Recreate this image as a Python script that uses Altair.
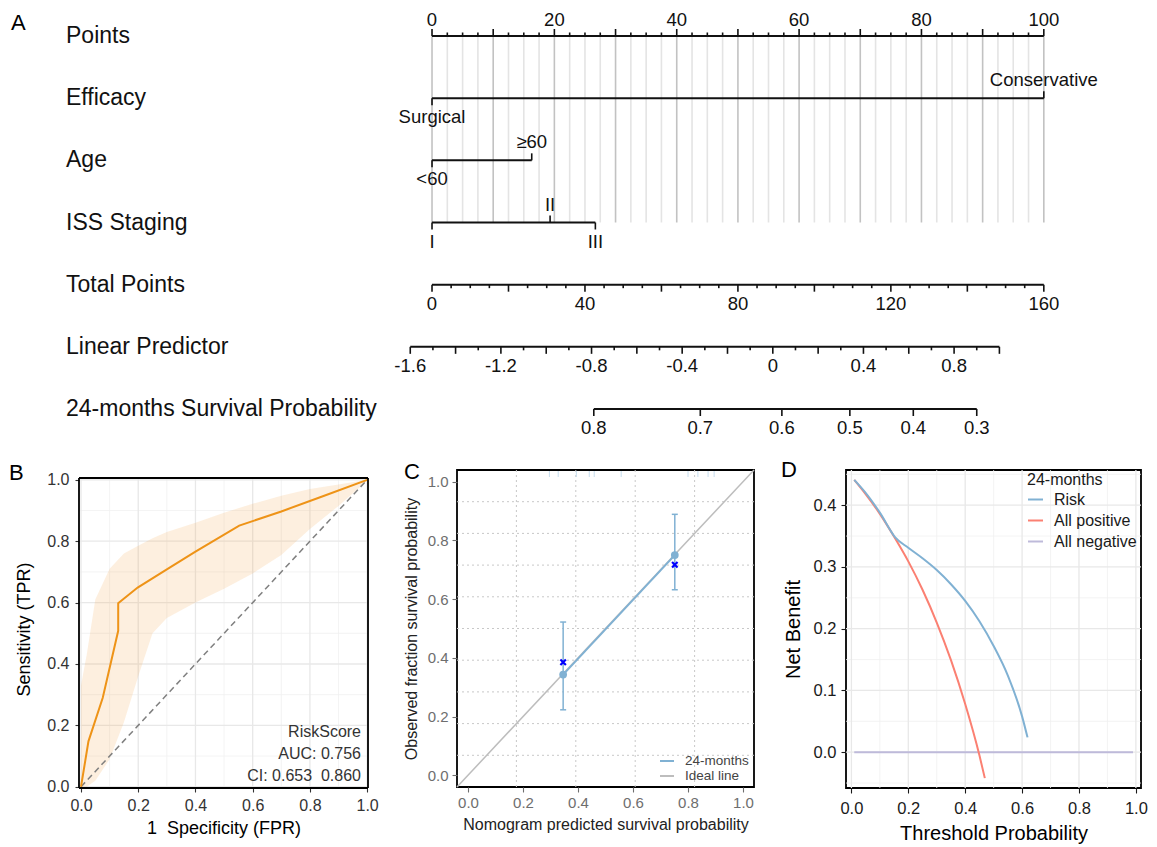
import altair as alt
import pandas as pd

FONT = "Liberation Sans"

# ================= Panel A : nomogram =================
row_names = ["Points", "Efficacy", "Age", "ISS Staging", "Total Points",
             "Linear Predictor", "24-months Survival Probability"]

points_labels = [0, 20, 40, 60, 80, 100]
efficacy_levels = ["Surgical", "Conservative"]
efficacy_points = [0, 100]
efficacy_side = ["below", "above"]
age_levels = ["<60", "≥60"]
age_points = [0, 16.3]
age_side = ["below", "above"]
iss_levels = ["I", "II", "III"]
iss_points = [0, 19.3, 26.7]
iss_side = ["below", "above", "below"]
total_labels = [0, 40, 80, 120, 160]
lp_labels = [-1.6, -1.2, -0.8, -0.4, 0, 0.4, 0.8]
lp_limits = [-1.6, 1.0]
surv_labels = [0.8, 0.7, 0.6, 0.5, 0.4, 0.3]
surv_lp = [-0.79, -0.32, 0.04, 0.34, 0.62, 0.90]

# how the lower scales line up with the Points scale
total_per_point = 1.6
lp_at_total_zero = -1.504
lp_per_total = 0.016875

# tick spacing of the nomogram rulers
points_tick_step, points_major_step = 2.5, 10
total_tick_step, total_major_step = 5, 20
lp_tick_step, lp_major_step = 0.1, 0.2

# ================= Panel B : ROC =================
roc_fpr = [0.0, 0.026, 0.076, 0.13, 0.13, 0.198, 0.30, 0.40, 0.553, 0.70, 0.85, 1.0]
roc_tpr = [0.0, 0.148, 0.29, 0.508, 0.598, 0.649, 0.708, 0.766, 0.851, 0.897, 0.948, 1.0]
ci_fpr = [0.0, 0.02, 0.05, 0.1, 0.15, 0.2, 0.25, 0.3, 0.4, 0.5, 0.6, 0.7, 0.8, 0.9, 1.0]
ci_lower = [0.0, 0.0, 0.02, 0.09, 0.21, 0.36, 0.50, 0.55, 0.60, 0.645, 0.695, 0.755, 0.84, 0.915, 0.997]
ci_upper = [0.33, 0.43, 0.61, 0.71, 0.76, 0.785, 0.81, 0.83, 0.86, 0.893, 0.922, 0.948, 0.97, 0.985, 1.0]
roc_ticks = [0.0, 0.2, 0.4, 0.6, 0.8, 1.0]
roc_minor = [0.1, 0.3, 0.5, 0.7, 0.9]
roc_text = ["RiskScore", "AUC: 0.756", "CI: 0.653\u00a0 0.860"]
roc_panel_x = [-0.007, 1.003]    # extent of the framed panel
roc_panel_y = [-0.004, 1.006]

# ================= Panel C : calibration =================
cal_pred = [0.346, 0.752]
cal_obs = [0.343, 0.750]
cal_lo = [0.223, 0.632]
cal_hi = [0.522, 0.889]
cal_km = [0.385, 0.717]
cal_rug = [0.296, 0.328, 0.394, 0.441, 0.459, 0.557, 0.80, 0.836, 0.873, 0.895]
cal_ideal = [-0.04, 1.04]
cal_grid_x = [0.176, 0.392, 0.608, 0.824]
cal_grid_y = [0.068, 0.176, 0.284, 0.392, 0.5, 0.608, 0.716, 0.824, 0.932]
cal_ticks = [0.0, 0.2, 0.4, 0.6, 0.8, 1.0]
cal_series = ["24-months", "Ideal line"]

# ================= Panel D : decision curve =================
risk_t = [0.01, 0.05, 0.1, 0.154, 0.2, 0.25, 0.3, 0.35, 0.4, 0.45, 0.5, 0.55, 0.6, 0.619]
risk_nb = [0.441, 0.42, 0.388, 0.348, 0.331, 0.314, 0.295, 0.272, 0.245, 0.212, 0.172, 0.124, 0.058, 0.024]
allpos_t = [0.01, 0.05, 0.1, 0.154, 0.2, 0.25, 0.3, 0.35, 0.4, 0.45, 0.469]
allpos_nb = [0.441, 0.418, 0.386, 0.346, 0.309, 0.263, 0.21, 0.149, 0.078, -0.005, -0.042]
allneg_t = [0.01, 0.99]
allneg_nb = [0.0, 0.0]
dca_series = ["Risk", "All positive", "All negative"]
dca_colors = ["#80B1D3", "#FB8072", "#BEBADA"]
dca_xticks = [0.0, 0.2, 0.4, 0.6, 0.8, 1.0]
dca_xminor = [0.1, 0.3, 0.5, 0.7, 0.9]
dca_yticks = [0.0, 0.1, 0.2, 0.3, 0.4]
dca_yminor = [-0.05, 0.05, 0.15, 0.25, 0.35, 0.45]

BLUE = "#80B1D3"
ORANGE = "#EE9317"


# ----------------------------------------------------------------------------------
def is_mult(v, step):
    q = v / step
    return abs(q - round(q)) < 1e-6


def u_tot(t):
    return t / total_per_point


def u_lp(v):
    return (v - lp_at_total_zero) / lp_per_total / total_per_point


n_pts_ticks = int(round(points_labels[-1] / points_tick_step))
points_ticks = [i * points_tick_step for i in range(n_pts_ticks + 1)]
total_ticks = list(range(0, total_labels[-1] + 1, total_tick_step))
n_lp = int(round((lp_limits[1] - lp_limits[0]) / lp_tick_step))
lp_ticks = [round(lp_limits[0] + lp_tick_step * i, 2) for i in range(n_lp + 1)]

lines = [
    dict(r=0, a=0, b=points_labels[-1]),
    dict(r=1, a=min(efficacy_points), b=max(efficacy_points)),
    dict(r=2, a=min(age_points), b=max(age_points)),
    dict(r=3, a=min(iss_points), b=max(iss_points)),
    dict(r=4, a=u_tot(total_labels[0]), b=u_tot(total_labels[-1])),
    dict(r=5, a=u_lp(lp_limits[0]), b=u_lp(lp_limits[1])),
    dict(r=6, a=u_lp(surv_lp[0]), b=u_lp(surv_lp[-1])),
]

up_major, up_minor, dn_major, dn_minor = [], [], [], []
top_lab, above_lab, below_lab = [], [], []
for v in points_ticks:
    (up_major if is_mult(v, points_major_step) else up_minor).append(dict(r=0, u=v))
for v in points_labels:
    top_lab.append(dict(r=0, u=v, t=f"{v:g}"))
for r, levels, pts, sides in [(1, efficacy_levels, efficacy_points, efficacy_side),
                              (2, age_levels, age_points, age_side),
                              (3, iss_levels, iss_points, iss_side)]:
    for lev, p, s in zip(levels, pts, sides):
        if s == "above":
            up_major.append(dict(r=r, u=p))
            above_lab.append(dict(r=r, u=p, t=lev))
        else:
            dn_major.append(dict(r=r, u=p))
            below_lab.append(dict(r=r, u=p, t=lev))
for t in total_ticks:
    (dn_major if is_mult(t, total_major_step) else dn_minor).append(dict(r=4, u=u_tot(t)))
for t in total_labels:
    below_lab.append(dict(r=4, u=u_tot(t), t=f"{t:g}"))
for v in lp_ticks:
    (dn_major if is_mult(v, lp_major_step) else dn_minor).append(dict(r=5, u=u_lp(v)))
for v in lp_labels:
    below_lab.append(dict(r=5, u=u_lp(v), t=f"{v:g}"))
for s, v in zip(surv_labels, surv_lp):
    dn_major.append(dict(r=6, u=u_lp(v)))
    below_lab.append(dict(r=6, u=u_lp(v), t=f"{s:g}"))

grid_df = pd.DataFrame({"u": points_ticks, "top": 0, "bot": 3,
                        "major": [is_mult(v, points_major_step) for v in points_ticks]})

NX = alt.Scale(domain=[-57.7, 110], nice=False, zero=False)
NY = alt.Scale(domain=[0, 6], reverse=True, nice=False, zero=False)


def nx(f):
    return alt.X(f, type="quantitative", scale=NX, axis=None)


def ny(f):
    return alt.Y(f, type="quantitative", scale=NY, axis=None)


TICK_L, TICK_S = 7, 3.5
a_layers = [
    alt.Chart(grid_df[~grid_df.major]).mark_rule(color="#E4E4E4", strokeWidth=1.6)
    .encode(x=nx("u"), y=ny("top"), y2="bot"),
    alt.Chart(grid_df[grid_df.major]).mark_rule(color="#C2C2C2", strokeWidth=1.6)
    .encode(x=nx("u"), y=ny("top"), y2="bot"),
    alt.Chart(pd.DataFrame(lines)).mark_rule(color="#111111", strokeWidth=2)
    .encode(x=nx("a"), x2="b", y=ny("r")),
    alt.Chart(pd.DataFrame(up_major)).mark_rule(color="#111111", strokeWidth=1.6, y2Offset=-TICK_L)
    .encode(x=nx("u"), y=ny("r"), y2="r"),
    alt.Chart(pd.DataFrame(up_minor)).mark_rule(color="#111111", strokeWidth=1.6, y2Offset=-TICK_S)
    .encode(x=nx("u"), y=ny("r"), y2="r"),
    alt.Chart(pd.DataFrame(dn_major)).mark_rule(color="#111111", strokeWidth=1.6, y2Offset=TICK_L)
    .encode(x=nx("u"), y=ny("r"), y2="r"),
    alt.Chart(pd.DataFrame(dn_minor)).mark_rule(color="#111111", strokeWidth=1.6, y2Offset=TICK_S)
    .encode(x=nx("u"), y=ny("r"), y2="r"),
    alt.Chart(pd.DataFrame(top_lab)).mark_text(fontSize=18.5, dy=-16, baseline="middle", color="#111111")
    .encode(x=nx("u"), y=ny("r"), text="t:N"),
    alt.Chart(pd.DataFrame(above_lab)).mark_text(fontSize=18.5, dy=-18, baseline="middle", color="#111111")
    .encode(x=nx("u"), y=ny("r"), text="t:N"),
    alt.Chart(pd.DataFrame(below_lab)).mark_text(fontSize=18.5, dy=19, baseline="middle", color="#111111")
    .encode(x=nx("u"), y=ny("r"), text="t:N"),
    alt.Chart(pd.DataFrame({"r": list(range(len(row_names))), "name": row_names}))
    .mark_text(align="left", baseline="middle", fontSize=23, color="#111111")
    .encode(x=alt.value(-13), y=ny("r"), text="name:N"),
    alt.Chart(pd.DataFrame({"t": ["A"]}))
    .mark_text(align="left", baseline="middle", fontSize=22, color="#000000")
    .encode(x=alt.value(-68), y=alt.value(-13), text="t:N"),
]
panel_a = alt.layer(*a_layers).properties(width=1026, height=373)


def make_axis(title, values, label_size, label_color, tick_color, tick_size, label_pad,
              title_size, title_pad, title_color="#000000"):
    return alt.Axis(title=title, values=values, format=".1f", grid=False, domain=False,
                    ticks=True, tickColor=tick_color, tickSize=tick_size, tickWidth=1.1,
                    labelFontSize=label_size, labelColor=label_color, labelPadding=label_pad,
                    labelFlush=False, labelOverlap=False, titleFontSize=title_size,
                    titleFontWeight="normal", titleColor=title_color, titlePadding=title_pad)


def frame():
    return alt.ViewBackground(stroke="#000000", strokeWidth=1.8, fill="white")


# ---------------- Panel B ----------------
BXS = alt.Scale(domain=roc_panel_x, nice=False, zero=False)
BYS = alt.Scale(domain=[roc_panel_y[0], 1.032], nice=False, zero=False)
BXA = make_axis("1\u00a0 Specificity (FPR)", roc_ticks, 16, "#333333", "#333333", 4, 5, 18, 6)
BYA = make_axis("Sensitivity (TPR)", roc_ticks, 16, "#333333", "#333333", 4, 6, 18, 13)


def bx(f):
    return alt.X(f, type="quantitative", scale=BXS, axis=BXA)


def by(f):
    return alt.Y(f, type="quantitative", scale=BYS, axis=BYA)


b_major = pd.DataFrame({"v": roc_ticks, "y1": roc_panel_y[0], "y2": roc_panel_y[1]})
b_minor = pd.DataFrame({"v": roc_minor, "y1": roc_panel_y[0], "y2": roc_panel_y[1]})
roc_df = pd.DataFrame({"fpr": roc_fpr, "tpr": roc_tpr, "i": list(range(len(roc_fpr)))})
ci_df = pd.DataFrame({"fpr": ci_fpr, "lo": ci_lower, "hi": ci_upper})
diag_df = pd.DataFrame({"fpr": [0.0, 1.0], "tpr": [0.0, 1.0]})
frame_v = pd.DataFrame({"x": roc_panel_x, "y1": roc_panel_y[0], "y2": roc_panel_y[1]})
frame_h = pd.DataFrame({"y": roc_panel_y, "x1": roc_panel_x[0], "x2": roc_panel_x[1]})

panel_b = alt.layer(
    alt.Chart(b_minor).mark_rule(color="#F0F0F0", strokeWidth=0.8).encode(x=bx("v"), y=by("y1"), y2="y2"),
    alt.Chart(b_minor).mark_rule(color="#F0F0F0", strokeWidth=0.8).encode(y=by("v")),
    alt.Chart(b_major).mark_rule(color="#E8E8E8", strokeWidth=1.3).encode(x=bx("v"), y=by("y1"), y2="y2"),
    alt.Chart(b_major).mark_rule(color="#E8E8E8", strokeWidth=1.3).encode(y=by("v")),
    alt.Chart(ci_df).mark_area(color="#F5A040", opacity=0.17).encode(x=bx("fpr"), y=by("lo"), y2="hi"),
    alt.Chart(diag_df).mark_line(color="#7F7F7F", strokeWidth=1.5, strokeDash=[6, 4])
    .encode(x=bx("fpr"), y=by("tpr")),
    alt.Chart(roc_df).mark_line(color=ORANGE, strokeWidth=2)
    .encode(x=bx("fpr"), y=by("tpr"), order="i:Q"),
    alt.Chart(frame_v).mark_rule(color="#000000", strokeWidth=1.8).encode(x=bx("x"), y=by("y1"), y2="y2"),
    alt.Chart(frame_h).mark_rule(color="#000000", strokeWidth=1.8).encode(y=by("y"), x=bx("x1"), x2="x2"),
    alt.Chart(pd.DataFrame({"k": [0]})).mark_text(text=roc_text, align="right", baseline="top",
                                                  fontSize=16, lineHeight=22, color="#333333")
    .encode(x=alt.value(282), y=alt.value(254)),
    alt.Chart(pd.DataFrame({"t": ["B"]})).mark_text(align="left", baseline="middle", fontSize=22)
    .encode(x=alt.value(-70), y=alt.value(3), text="t:N"),
).properties(width=289, height=318)

# ---------------- Panel C ----------------
CXS = alt.Scale(domain=[-0.04, 1.04], nice=False, zero=False)
CYS = alt.Scale(domain=[-0.04, 1.04], nice=False, zero=False)
CXA = make_axis("Nomogram predicted survival probability", cal_ticks, 15, "#6E6E6E", "#6E6E6E", 5, 3, 16, 6, "#222222")
CYA = make_axis("Observed fraction survival probability", cal_ticks, 15, "#6E6E6E", "#6E6E6E", 5, 4, 16, 8, "#222222")


def cx(f):
    return alt.X(f, type="quantitative", scale=CXS, axis=CXA)


def cy(f):
    return alt.Y(f, type="quantitative", scale=CYS, axis=CYA)


cal_color = alt.Color("cal_series:N", scale=alt.Scale(domain=cal_series, range=[BLUE, "#BDBDBD"]),
                      legend=alt.Legend(title=None, orient="none", legendX=202, legendY=283,
                                        symbolType="stroke", symbolStrokeWidth=2, symbolSize=196,
                                        labelFontSize=13.5, labelColor="#444444", labelOffset=10,
                                        rowPadding=-3, padding=0))
cal_df = pd.DataFrame({"pred": cal_pred, "obs": cal_obs, "lo": cal_lo, "hi": cal_hi, "km": cal_km,
                       "cal_series": cal_series[0]})
ideal_df = pd.DataFrame({"pred": cal_ideal, "obs": cal_ideal, "cal_series": cal_series[1]})

panel_c = alt.layer(
    alt.Chart(pd.DataFrame({"v": cal_grid_x})).mark_rule(color="#C8C8C8", strokeWidth=1, strokeDash=[2, 3])
    .encode(x=cx("v")),
    alt.Chart(pd.DataFrame({"v": cal_grid_y})).mark_rule(color="#C8C8C8", strokeWidth=1, strokeDash=[2, 3])
    .encode(y=cy("v")),
    alt.Chart(pd.DataFrame({"v": cal_rug})).mark_rule(color="#C6DDEE", strokeWidth=1)
    .encode(x=cx("v"), y=alt.value(1), y2=alt.value(7)),
    alt.Chart(ideal_df).mark_line(strokeWidth=1.5).encode(x=cx("pred"), y=cy("obs"), color=cal_color),
    alt.Chart(cal_df).mark_line(strokeWidth=2).encode(x=cx("pred"), y=cy("obs"), color=cal_color),
    alt.Chart(cal_df).mark_rule(color=BLUE, strokeWidth=1.5).encode(x=cx("pred"), y=cy("lo"), y2="hi"),
    alt.Chart(cal_df).mark_rule(color=BLUE, strokeWidth=1.5, xOffset=-3, x2Offset=3)
    .encode(x=cx("pred"), x2="pred", y=cy("hi")),
    alt.Chart(cal_df).mark_rule(color=BLUE, strokeWidth=1.5, xOffset=-3, x2Offset=3)
    .encode(x=cx("pred"), x2="pred", y=cy("lo")),
    alt.Chart(cal_df).mark_circle(color=BLUE, size=60, opacity=1).encode(x=cx("pred"), y=cy("obs")),
    alt.Chart(cal_df).mark_point(shape="M -1 -1 L 1 1 M -1 1 L 1 -1", filled=False, color="#0000FF",
                                 strokeWidth=2.2, size=30, opacity=1)
    .encode(x=cx("pred"), y=cy("km")),
    alt.Chart(pd.DataFrame({"t": ["C"]})).mark_text(align="left", baseline="middle", fontSize=22)
    .encode(x=alt.value(-53), y=alt.value(2), text="t:N"),
).properties(width=297, height=317, view=frame())

# ---------------- Panel D ----------------
DXS = alt.Scale(domain=[-0.019, 1.018], nice=False, zero=False)
DYS = alt.Scale(domain=[-0.058, 0.457], nice=False, zero=False)
DXA = make_axis("Threshold Probability", dca_xticks, 16.5, "#1A1A1A", "#1A1A1A", 5, 7, 20, 7)
DYA = make_axis("Net Benefit", dca_yticks, 16.5, "#1A1A1A", "#1A1A1A", 5, 5, 20, 10)


def dx(f):
    return alt.X(f, type="quantitative", scale=DXS, axis=DXA)


def dy(f):
    return alt.Y(f, type="quantitative", scale=DYS, axis=DYA)


dca_color = alt.Color("dca_series:N", scale=alt.Scale(domain=dca_series, range=dca_colors),
                      legend=alt.Legend(title="24-months", orient="none", legendX=181, legendY=2,
                                        symbolType="stroke", symbolStrokeWidth=2, symbolSize=225,
                                        labelFontSize=16, titleFontSize=16, titleFontWeight="normal",
                                        labelColor="#1A1A1A", titleColor="#1A1A1A", labelOffset=10,
                                        rowPadding=4, titlePadding=3, padding=0))
risk_df = pd.DataFrame({"t": risk_t, "nb": risk_nb, "dca_series": dca_series[0]})
pos_df = pd.DataFrame({"t": allpos_t, "nb": allpos_nb, "dca_series": dca_series[1]})
neg_df = pd.DataFrame({"t": allneg_t, "nb": allneg_nb, "dca_series": dca_series[2]})

panel_d = alt.layer(
    alt.Chart(pd.DataFrame({"v": dca_xminor})).mark_rule(color="#F0F0F0", strokeWidth=0.8).encode(x=dx("v")),
    alt.Chart(pd.DataFrame({"v": dca_yminor})).mark_rule(color="#F0F0F0", strokeWidth=0.8).encode(y=dy("v")),
    alt.Chart(pd.DataFrame({"v": dca_xticks})).mark_rule(color="#E8E8E8", strokeWidth=1.3).encode(x=dx("v")),
    alt.Chart(pd.DataFrame({"v": dca_yticks})).mark_rule(color="#E8E8E8", strokeWidth=1.3).encode(y=dy("v")),
    alt.Chart(neg_df).mark_line(strokeWidth=2).encode(x=dx("t"), y=dy("nb"), color=dca_color),
    alt.Chart(pos_df).mark_line(strokeWidth=2, interpolate="monotone").encode(x=dx("t"), y=dy("nb"), color=dca_color),
    alt.Chart(risk_df).mark_line(strokeWidth=2, interpolate="monotone").encode(x=dx("t"), y=dy("nb"), color=dca_color),
    alt.Chart(pd.DataFrame({"t": ["D"]})).mark_text(align="left", baseline="middle", fontSize=22)
    .encode(x=alt.value(-65), y=alt.value(0), text="t:N"),
).properties(width=295, height=318, view=frame())

bottom = alt.hconcat(
    panel_b,
    alt.hconcat(panel_c, panel_d, spacing=22).resolve_scale(x="independent", y="independent", color="independent"),
    spacing=23,
).resolve_scale(x="independent", y="independent", color="independent")

chart = (
    alt.vconcat(panel_a, bottom, spacing=20)
    .resolve_scale(x="independent", y="independent", color="independent")
    .properties(padding={"top": 2, "left": 0, "right": 0, "bottom": 0})
    .configure(font=FONT)
    .configure_view(stroke="transparent")
)

chart.save("out.html", embed_options={"renderer": "svg", "actions": False})
